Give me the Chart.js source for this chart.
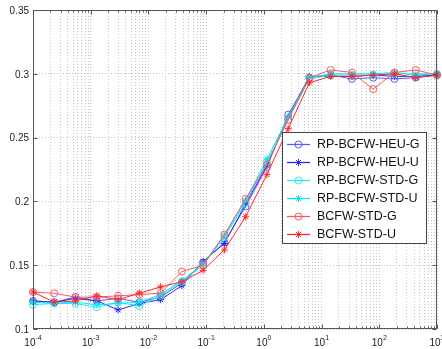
<!DOCTYPE html>
<html>
<head>
<meta charset="utf-8">
<script src="https://cdn.jsdelivr.net/npm/chart.js@4.4.1/dist/chart.umd.min.js"></script>
<style>
html,body{margin:0;padding:0;background:#fff;}
#wrap{width:442px;height:349px;position:relative;}
</style>
</head>
<body>
<div id="wrap"><canvas id="c" width="442" height="349"></canvas></div>
<script>
// ---- data ----
const xValues = [0.0001, 0.0002336, 0.0005456, 0.001274, 0.002976, 0.006952, 0.01624, 0.03793, 0.08859, 0.2069,
                 0.4833, 1.129, 2.637, 6.158, 14.38, 33.60, 78.48, 183.3, 428.1, 1000];
const heuG = [0.122, 0.121, 0.125, 0.122, 0.124, 0.121, 0.125, 0.136, 0.152, 0.168, 0.196, 0.227, 0.268, 0.297, 0.299, 0.296, 0.297, 0.296, 0.297, 0.299];
const heuU = [0.122, 0.121, 0.124, 0.122, 0.115, 0.120, 0.123, 0.134, 0.153, 0.167, 0.198, 0.228, 0.266, 0.298, 0.298, 0.298, 0.299, 0.298, 0.298, 0.299];
const stdG = [0.119, 0.120, 0.120, 0.117, 0.121, 0.118, 0.126, 0.137, 0.150, 0.172, 0.199, 0.231, 0.264, 0.296, 0.299, 0.299, 0.299, 0.300, 0.300, 0.300];
const stdU = [0.121, 0.120, 0.121, 0.119, 0.120, 0.121, 0.127, 0.138, 0.151, 0.173, 0.201, 0.233, 0.266, 0.297, 0.300, 0.300, 0.300, 0.301, 0.299, 0.300];
const bcfwG = [0.129, 0.128, 0.125, 0.125, 0.126, 0.127, 0.128, 0.145, 0.150, 0.174, 0.202, 0.229, 0.264, 0.297, 0.303, 0.301, 0.288, 0.301, 0.303, 0.299];
const bcfwU = [0.129, 0.121, 0.122, 0.126, 0.123, 0.128, 0.133, 0.137, 0.146, 0.162, 0.188, 0.221, 0.257, 0.293, 0.298, 0.298, 0.299, 0.300, 0.297, 0.299];
const seriesNames = ['RP-BCFW-HEU-G', 'RP-BCFW-HEU-U', 'RP-BCFW-STD-G', 'RP-BCFW-STD-U', 'BCFW-STD-G', 'BCFW-STD-U'];
const yTickValues = [0.1, 0.15, 0.2, 0.25, 0.3, 0.35];
const yTickLabels = ['0.1', '0.15', '0.2', '0.25', '0.3', '0.35'];
const xTickExponents = [-4, -3, -2, -1, 0, 1, 2, 3];

// ---- styles ----
const styles = [
  {color: 'rgb(90,90,255)',  marker: 'circle', r: 3.5, order: 5},
  {color: 'rgb(40,40,240)',  marker: 'star',   r: 3.5, order: 4},
  {color: 'rgb(40,235,240)', marker: 'circle', r: 3.5, order: 3},
  {color: 'rgb(0,230,240)',  marker: 'star',   r: 3.5, order: 2},
  {color: 'rgb(255,90,90)',  marker: 'circle', r: 3.5, order: 1},
  {color: 'rgb(255,40,40)',  marker: 'star',   r: 3.5, order: 0}
];
const allSeries = [heuG, heuU, stdG, stdU, bcfwG, bcfwU];

const datasets = allSeries.map((s, i) => ({
  label: seriesNames[i],
  data: s.map((v, j) => ({x: xValues[j], y: v})),
  borderColor: styles[i].color,
  backgroundColor: 'rgba(0,0,0,0)',
  pointBorderColor: styles[i].color,
  pointBackgroundColor: 'rgba(0,0,0,0)',
  pointStyle: styles[i].marker,
  pointRadius: styles[i].r,
  pointBorderWidth: 1,
  borderWidth: 1,
  tension: 0,
  order: styles[i].order,
  clip: false
}));

const FONT = '"Liberation Sans", Arial, Helvetica, sans-serif';

const decorPlugin = {
  id: 'decor',
  afterDatasetsDraw(chart) {
    const ctx = chart.ctx;
    const a = chart.chartArea;
    const xs = chart.scales.x, ys = chart.scales.y;
    ctx.save();
    // box
    ctx.strokeStyle = '#555';
    ctx.lineWidth = 1;
    const L = Math.round(a.left) + 0.5, R = Math.round(a.right) - 0.5;
    const T = Math.round(a.top) + 0.5, B = Math.round(a.bottom) - 0.5;
    ctx.strokeRect(L, T, R - L, B - T);
    // y ticks inward
    ctx.beginPath();
    yTickValues.forEach(v => {
      const y = Math.round(ys.getPixelForValue(v)) + 0.5;
      ctx.moveTo(L, y); ctx.lineTo(L + 4, y);
      ctx.moveTo(R, y); ctx.lineTo(R - 4, y);
    });
    // x ticks inward
    xTickExponents.forEach((e, idx) => {
      for (let m = 1; m <= 9; m++) {
        if (idx === xTickExponents.length - 1 && m > 1) break;
        const v = m * Math.pow(10, e);
        const x = Math.round(xs.getPixelForValue(v)) + 0.5;
        const len = m === 1 ? 4 : 2;
        ctx.moveTo(x, B); ctx.lineTo(x, B - len);
        ctx.moveTo(x, T); ctx.lineTo(x, T + len);
      }
    });
    ctx.stroke();
    // y labels
    ctx.fillStyle = '#222';
    ctx.font = '10px ' + FONT;
    ctx.textAlign = 'right';
    ctx.textBaseline = 'middle';
    yTickValues.forEach((v, i) => {
      ctx.fillText(yTickLabels[i], a.left - 4, ys.getPixelForValue(v) + 1);
    });
    // x labels 10^e
    ctx.textBaseline = 'alphabetic';
    ctx.textAlign = 'left';
    xTickExponents.forEach(e => {
      const x = xs.getPixelForValue(Math.pow(10, e));
      ctx.font = '10px ' + FONT;
      const base = '10';
      const wb = ctx.measureText(base).width;
      ctx.font = '7px ' + FONT;
      const exp = String(e);
      const we = ctx.measureText(exp).width;
      const total = wb + we;
      const x0 = x - total / 2;
      ctx.font = '10px ' + FONT;
      ctx.fillText(base, x0, 346);
      ctx.font = '7px ' + FONT;
      ctx.fillText(exp, x0 + wb, 340);
    });
    // legend
    const lx = 282.5, ly = 132.5, lw = 144, lh = 111;
    ctx.fillStyle = '#fff';
    ctx.fillRect(lx, ly, lw, lh);
    ctx.strokeStyle = '#444';
    ctx.lineWidth = 1;
    ctx.strokeRect(lx, ly, lw, lh);
    ctx.font = '12.5px ' + FONT;
    ctx.textAlign = 'left';
    ctx.textBaseline = 'middle';
    chart.data.datasets.forEach((ds, i) => {
      const y = Math.round(144 + i * 17.9) + 0.5;
      ctx.strokeStyle = ds.borderColor;
      ctx.lineWidth = 1.3;
      ctx.beginPath();
      ctx.moveTo(287, y);
      ctx.lineTo(310, y);
      ctx.stroke();
      ctx.lineWidth = 1;
      ctx.strokeStyle = ds.borderColor;
      ctx.fillStyle = 'rgba(0,0,0,0)';
      Chart.helpers.drawPoint(ctx, {pointStyle: ds.pointStyle, radius: ds.pointRadius, borderWidth: 1, rotation: 0}, 298.5, y);
      ctx.fillStyle = '#111';
      ctx.fillText(ds.label, 317, y + 0.5);
    });
    ctx.restore();
  }
};

const xMinorTicks = [];
xTickExponents.forEach((e, idx) => {
  for (let m = 1; m <= 9; m++) {
    if (idx === xTickExponents.length - 1 && m > 1) break;
    xMinorTicks.push(m * Math.pow(10, e));
  }
});

new Chart(document.getElementById('c'), {
  type: 'line',
  data: {datasets},
  options: {
    responsive: false,
    animation: false,
    devicePixelRatio: 1,
    layout: {padding: {left: 33, right: 5, top: 10, bottom: 20}},
    plugins: {legend: {display: false}, tooltip: {enabled: false}},
    scales: {
      x: {
        type: 'logarithmic',
        min: 0.0001, max: 1000,
        afterBuildTicks(scale) { scale.ticks = xMinorTicks.map(v => ({value: v})); },
        ticks: {display: false},
        grid: {color: '#c6c6c6', lineWidth: 1, drawTicks: false},
        border: {display: false, dash: [1, 2]}
      },
      y: {
        type: 'linear',
        min: 0.1, max: 0.35,
        afterBuildTicks(scale) { scale.ticks = yTickValues.map(v => ({value: v})); },
        ticks: {display: false},
        grid: {color: '#c6c6c6', lineWidth: 1, drawTicks: false},
        border: {display: false, dash: [1, 2]}
      }
    }
  },
  plugins: [decorPlugin]
});
</script>
</body>
</html>
